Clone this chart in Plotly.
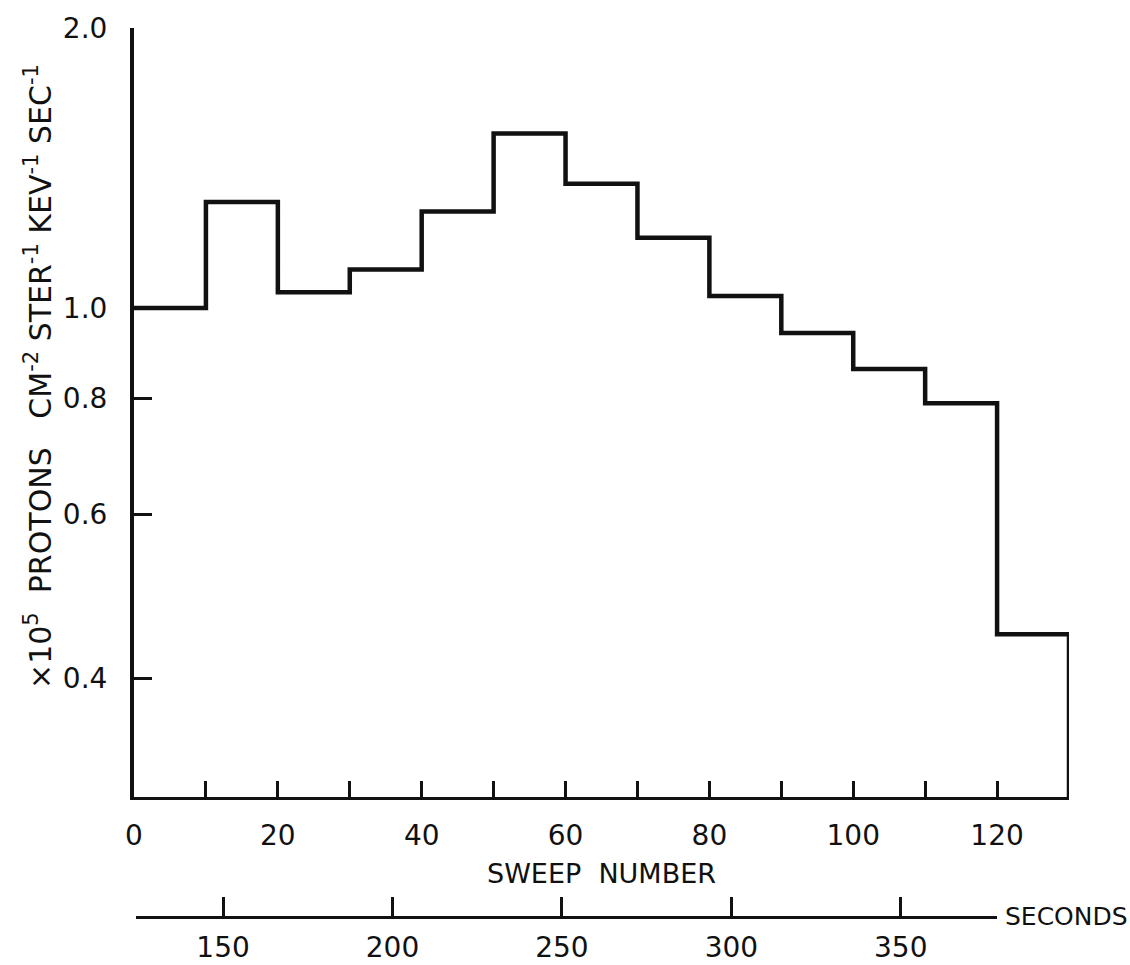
import math
import plotly.graph_objects as go

# Proton intensity per sweep bin (x10^5 protons cm^-2 ster^-1 keV^-1 sec^-1)
bin_edges = [0, 10, 20, 30, 40, 50, 60, 70, 80, 90, 100, 110, 120, 130]
intensity = [1.00, 1.30, 1.04, 1.10, 1.27, 1.54, 1.36, 1.19, 1.03, 0.94, 0.86, 0.79, 0.446]

y_ticks = [0.4, 0.6, 0.8, 1.0, 2.0]
y_tick_text = ["0.4", "0.6", "0.8", "1.0", "2.0"]
x_ticks = [0, 10, 20, 30, 40, 50, 60, 70, 80, 90, 100, 110, 120]
x_tick_text = ["0", "", "20", "", "40", "", "60", "", "80", "", "100", "", "120"]
seconds_ticks = [150, 200, 250, 300, 350]
seconds_text = ["150", "200", "250", "300", "350"]

Y_MIN, Y_MAX = 0.298, 2.0
SEC_RANGE = [124.3, 378.4]

FONT = "DejaVu Sans"
INK = "#111111"

# histogram outline: step through each bin, then drop to the axis floor
step_x = bin_edges + [bin_edges[-1]]
step_y = intensity + [intensity[-1], Y_MIN]

fig = go.Figure()
fig.add_trace(go.Scatter(
    x=step_x, y=step_y, mode="lines",
    line=dict(color=INK, width=4.5, shape="hv"),
    cliponaxis=False, hoverinfo="skip", showlegend=False,
))
# carrier for the elapsed-time axis
fig.add_trace(go.Scatter(
    x=seconds_ticks, y=[0] * len(seconds_ticks), xaxis="x2", yaxis="y2",
    mode="markers", marker=dict(opacity=0), hoverinfo="skip", showlegend=False,
))

PLOT_L, PLOT_R, PLOT_T, PLOT_B = 134, 1069, 28, 916
PW, PH = PLOT_R - PLOT_L, PLOT_B - PLOT_T
y_lo = (PLOT_B - 797) / PH

fig.update_layout(
    template="none",
    width=1130, height=965,
    margin=dict(l=PLOT_L, r=1130 - PLOT_R, t=PLOT_T, b=965 - PLOT_B, autoexpand=False),
    paper_bgcolor="white", plot_bgcolor="rgba(0,0,0,0)",
    font=dict(family=FONT, color=INK, size=26),
    xaxis=dict(
        range=[0, 130], domain=[0, 1], anchor="y", automargin=False,
        tickvals=x_ticks, ticktext=x_tick_text,
        ticks="inside", ticklen=16, tickwidth=2.5, tickcolor=INK,
        showline=True, linewidth=3, linecolor=INK,
        showgrid=False, zeroline=False, ticklabelstandoff=11,
        tickfont=dict(size=28, color=INK),
        title=dict(text="SWEEP  NUMBER", font=dict(size=27, color=INK), standoff=14),
    ),
    yaxis=dict(
        type="log", range=[math.log10(Y_MIN), math.log10(Y_MAX)],
        domain=[y_lo, 1], anchor="x", automargin=False,
        tickvals=y_ticks, ticktext=y_tick_text,
        ticks="inside", ticklen=18, tickwidth=2.5, tickcolor=INK,
        showline=True, linewidth=4, linecolor=INK,
        showgrid=False, zeroline=False, ticklabelstandoff=17,
        tickfont=dict(size=28, color=INK),
    ),
    xaxis2=dict(
        range=SEC_RANGE, domain=[(136 - PLOT_L) / PW, (997 - PLOT_L) / PW],
        anchor="y2", automargin=False,
        tickvals=seconds_ticks, ticktext=seconds_text,
        ticks="inside", ticklen=19, tickwidth=2.5, tickcolor=INK,
        showline=True, linewidth=2.5, linecolor=INK,
        showgrid=False, zeroline=False, ticklabelstandoff=5,
        tickfont=dict(size=28, color=INK),
    ),
    yaxis2=dict(domain=[0, 0.01], anchor="x2", visible=False, range=[0, 1]),
    annotations=[
        dict(
            text="×10<sup>5</sup>  PROTONS   CM<sup>-2</sup> STER<sup>-1</sup> KEV<sup>-1</sup> SEC<sup>-1</sup>",
            textangle=-90, xref="paper", yref="paper",
            x=-(PLOT_L - 38) / PW, y=(PLOT_B - 377) / PH,
            xanchor="center", yanchor="middle", showarrow=False,
            font=dict(size=30, color=INK),
        ),
        dict(
            text="SECONDS", xref="paper", yref="paper",
            x=(1003 - PLOT_L) / PW, y=0, xanchor="left", yanchor="middle",
            showarrow=False, font=dict(size=25, color=INK),
        ),
    ],
)

fig.write_html("out.html")
